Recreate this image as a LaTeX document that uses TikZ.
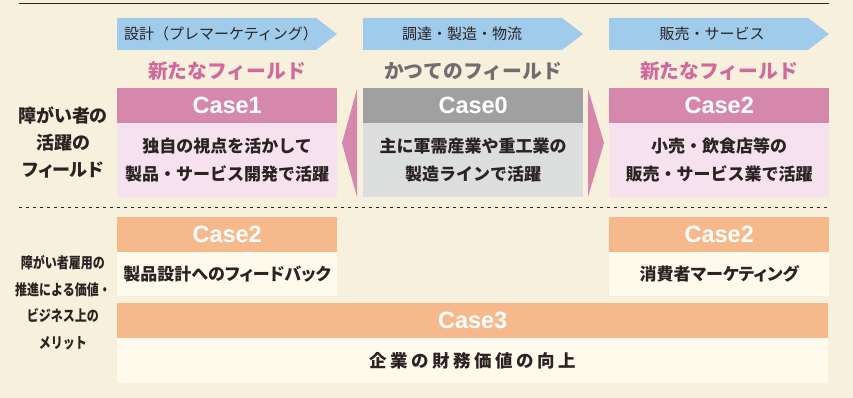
\documentclass[tikz,border=0pt]{standalone}
\usepackage{fontspec}
\newfontfamily\jp{Noto Sans CJK JP}[RawFeature=+palt]
\newfontfamily\jpf{Noto Sans CJK JP}
\newfontfamily\jpw{Noto Sans CJK JP}[LetterSpace=20]
\newfontfamily\jpn{Noto Sans CJK JP}[FakeStretch=0.8]
\newfontfamily\lat{Liberation Sans}
\definecolor{bgc}{HTML}{F7F0DC}
\definecolor{blueA}{HTML}{A0CBEB}
\definecolor{pinkH}{HTML}{D688AC}
\definecolor{pinkB}{HTML}{F5E2EE}
\definecolor{grayH}{HTML}{A0A0A0}
\definecolor{grayB}{HTML}{DCDDDD}
\definecolor{orH}{HTML}{F5B98B}
\definecolor{crB}{HTML}{FEFAEC}
\definecolor{pinkT}{HTML}{D2699C}
\definecolor{grayT}{HTML}{6E6E6E}
\definecolor{ink}{HTML}{2A2322}
\tikzset{
  hdr/.style={anchor=north west, minimum width=220pt, minimum height=35pt, inner sep=0pt, text=white, font=\lat\bfseries\fontsize{23.5}{23.5}\selectfont},
  bodybox/.style={anchor=north west, minimum width=220pt, inner sep=0pt, text=ink, align=center, font=\jpf\bfseries\fontsize{17}{28}\selectfont},
  lowbox/.style={bodybox, font=\jp\bfseries\fontsize{17}{28}\selectfont},
  subt/.style={font=\jpf\bfseries\fontsize{19.8}{20}\selectfont, inner sep=0pt},
  chev/.style={fill=blueA},
  chevtext/.style={text=ink, inner sep=0pt, font=\jpf\fontsize{15}{15}\selectfont},
  sidelab/.style={text=ink, align=center, inner sep=0pt, font=\jp\bfseries\fontsize{18}{27}\selectfont},
  sidelabn/.style={text=ink, align=center, inner sep=0pt, font=\jpn\bfseries\fontsize{15}{26.5}\selectfont},
}
\begin{document}
\begin{tikzpicture}[x=1pt,y=-1pt]
\fill[bgc] (0,0) rectangle (853,398);
\useasboundingbox (0,0) rectangle (853,398);
% top rule
\draw[ink, line width=1pt] (19,4) -- (829,4);
% chevrons
\fill[chev] (117,18) -- (316,18) -- (337,34) -- (316,50) -- (117,50) -- cycle;
\fill[chev] (363,18) -- (562,18) -- (583,34) -- (562,50) -- (363,50) -- cycle;
\fill[chev] (609,18) -- (808,18) -- (829,34) -- (808,50) -- (609,50) -- cycle;
\node[chevtext] (p1) at (221,34) {設計（プレマーケティング）};
\node[chevtext] (p2) at (462,34) {調達・製造・物流};
\node[chevtext] (p3) at (712,34) {販売・サービス};
% subtitles
\node[subt, text=pinkT] (s1) at (227,71) {新たなフィールド};
\node[subt, text=grayT] (s0) at (473,71) {かつてのフィールド};
\node[subt, text=pinkT] (s2) at (719,71) {新たなフィールド};
% upper cases
\node[hdr, fill=pinkH] (c1h) at (117,88) {Case1};
\node[bodybox, fill=pinkB, minimum height=74pt] (c1b) at (117,123) {独自の視点を活かして\\製品・サービス開発で活躍};
\node[hdr, fill=grayH] (c0h) at (363,88) {Case0};
\node[bodybox, fill=grayB, minimum height=74pt] (c0b) at (363,123) {主に軍需産業や重工業の\\製造ラインで活躍};
\node[hdr, fill=pinkH] (c2h) at (609,88) {Case2};
\node[bodybox, fill=pinkB, minimum height=74pt] (c2b) at (609,123) {小売・飲食店等の\\販売・サービス業で活躍};
% pink arrows
\fill[pinkH] (357,89) -- (342,143) -- (357,197) -- cycle;
\fill[pinkH] (588,89) -- (604,143) -- (588,197) -- cycle;
% side labels
\node[sidelab] (l1) at (63,142.5) {障がい者の\\活躍の\\フィールド};
% dashed divider
\draw[ink, line width=0.8pt, dash pattern=on 3pt off 4pt] (19,207) -- (829,207);
% lower cases
\node[hdr, fill=orH] (d1h) at (117,217) {Case2};
\node[lowbox, fill=crB, minimum height=44pt] (d1b) at (117,252) {製品設計へのフィードバック};
\node[hdr, fill=orH] (d2h) at (609,217) {Case2};
\node[lowbox, fill=crB, minimum height=44pt] (d2b) at (609,252) {消費者マーケティング};
\node[hdr, fill=orH, minimum width=711pt] (d3h) at (117,303) {Case3};
\node[bodybox, fill=crB, minimum width=711pt, minimum height=45pt, font=\jpw\bfseries\fontsize{17.5}{20}\selectfont] (d3b) at (117,338) {企業の財務価値の向上};
\node[sidelabn] (l2) at (63,302.5) {障がい者雇用の\\推進による価値・\\ビジネス上の\\メリット};
\end{tikzpicture}
\end{document}
